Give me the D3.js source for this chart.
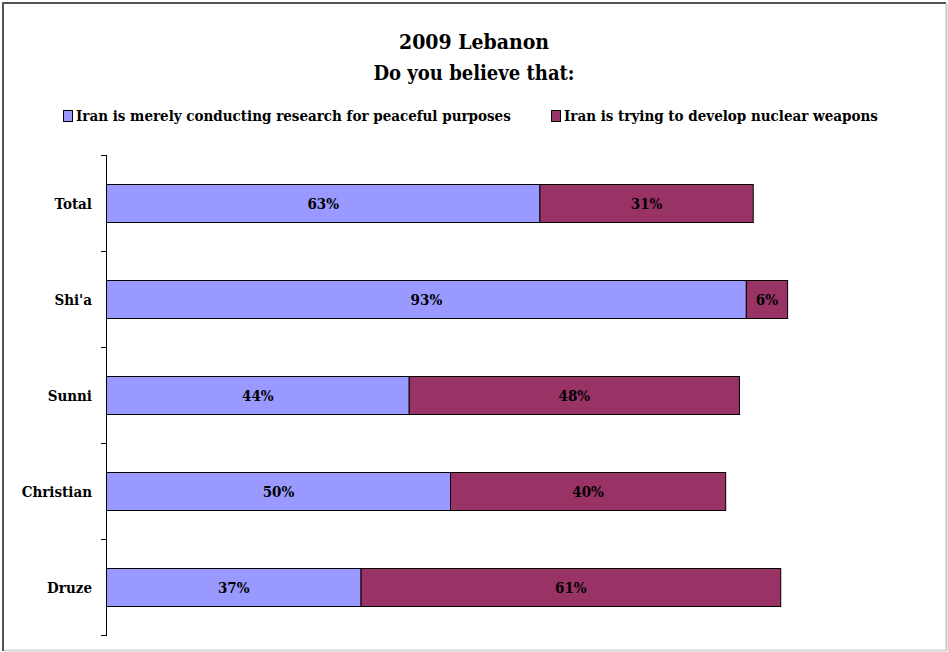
<!DOCTYPE html>
<html>
<head>
<meta charset="utf-8">
<script src="https://cdn.jsdelivr.net/npm/d3@7"></script>
<style>
  html, body { margin: 0; padding: 0; background: #ffffff; }
  svg { display: block; }
  text { font-family: "DejaVu Serif Condensed", "DejaVu Serif", serif; font-stretch: condensed; font-weight: bold; fill: #000; }
</style>
</head>
<body>
<svg id="chart" width="948" height="652"></svg>
<script>
// Survey groups and shares (%)
const categories = ["Total", "Shi'a", "Sunni", "Christian", "Druze"];
const seriesNames = [
  "Iran is merely conducting research for peaceful purposes",
  "Iran is trying to develop nuclear weapons"
];
const peaceful = [63, 93, 44, 50, 37];
const weapons  = [31, 6, 48, 40, 61];
const colors = ["#9999FF", "#993366"];
const titleLines = ["2009 Lebanon", "Do you believe that:"];

const svg = d3.select("#chart");
const W = 948, H = 652;

// Frame
svg.append("rect").attr("x", 0).attr("y", 0).attr("width", W).attr("height", H).attr("fill", "#fff");
svg.append("line").attr("x1", 2).attr("x2", 946).attr("y1", 3).attr("y2", 3).attr("stroke", "#555").attr("stroke-width", 2);
svg.append("line").attr("x1", 3).attr("x2", 3).attr("y1", 2).attr("y2", 651).attr("stroke", "#555").attr("stroke-width", 2);
svg.append("line").attr("x1", 946.5).attr("x2", 946.5).attr("y1", 4).attr("y2", 651).attr("stroke", "#c8c8c8").attr("stroke-width", 2);
svg.append("line").attr("x1", 4).attr("x2", 947).attr("y1", 650.5).attr("y2", 650.5).attr("stroke", "#d4d4d4").attr("stroke-width", 2);

// Title
svg.selectAll("text.title").data(titleLines).join("text")
  .attr("class", "title")
  .attr("x", 474).attr("y", (d, i) => 49 + i * 31)
  .attr("text-anchor", "middle")
  .attr("font-size", (d, i) => i === 0 ? 21 : 20)
  .text(d => d);

// Legend
const legendX = [63, 551];
const lg = svg.selectAll("g.legend").data(seriesNames).join("g")
  .attr("class", "legend")
  .attr("transform", (d, i) => `translate(${legendX[i]},116)`);
lg.append("rect").attr("x", 0.5).attr("y", -5.5).attr("width", 9).attr("height", 11)
  .attr("fill", (d, i) => colors[i]).attr("stroke", "#000").attr("stroke-width", 1);
lg.append("text").attr("x", 13).attr("y", 5).attr("font-size", 15).text(d => d);

// Scales
const x = d3.scaleLinear().domain([0, 100]).range([106, 794]);
const y = d3.scaleBand().domain(categories).range([155, 635]).paddingInner(0.6).paddingOuter(0.3);
const barH = Math.floor(y.bandwidth());

// Category axis
const axis = d3.axisLeft(y).tickSize(0).tickPadding(14);
const ax = svg.append("g").attr("transform", "translate(106,1)").call(axis);
ax.select(".domain").remove();
ax.selectAll("text")
  .attr("font-size", 15)
  .attr("font-family", null)
  .attr("dy", "0.36em");

svg.append("line").attr("x1", 106.5).attr("x2", 106.5).attr("y1", 155).attr("y2", 635)
  .attr("stroke", "#000").attr("stroke-width", 1);
const boundaries = d3.range(categories.length + 1).map(i => 155 + i * (480 / categories.length));
svg.selectAll("line.tick-mark").data(boundaries).join("line")
  .attr("class", "tick-mark")
  .attr("x1", 101).attr("x2", 107).attr("y1", d => d + 0.5).attr("y2", d => d + 0.5)
  .attr("stroke", "#000").attr("stroke-width", 1);

// Stacked bars
const rows = categories.map((c, i) => ({ cat: c, values: [peaceful[i], weapons[i]] }));
rows.forEach(r => {
  let acc = 0;
  r.segs = r.values.map((v, k) => { const s = { cat: r.cat, k, v, x0: acc, x1: acc + v }; acc += v; return s; });
});
const segs = rows.flatMap(r => r.segs);

svg.selectAll("rect.bar").data(segs).join("rect")
  .attr("class", "bar")
  .attr("x", d => x(d.x0) + 0.5)
  .attr("y", d => Math.ceil(y(d.cat)) + 0.5)
  .attr("width", d => x(d.x1) - x(d.x0))
  .attr("height", barH)
  .attr("fill", d => colors[d.k])
  .attr("stroke", "#000").attr("stroke-width", 1);

svg.selectAll("text.val").data(segs).join("text")
  .attr("class", "val")
  .attr("x", d => (x(d.x0) + x(d.x1)) / 2 + 0.5)
  .attr("y", d => Math.ceil(y(d.cat)) + barH / 2 + 6)
  .attr("text-anchor", "middle")
  .attr("font-size", 15)
  .text(d => d.v + "%");
</script>
</body>
</html>
